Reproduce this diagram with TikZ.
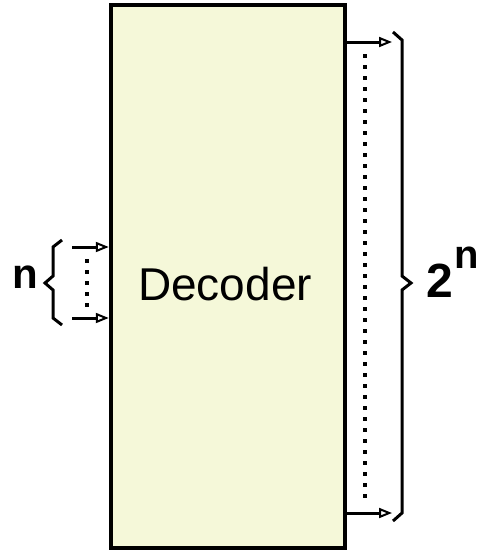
\documentclass[tikz,border=0pt]{standalone}
\usepackage{fontspec}
\setmainfont{Liberation Sans}
\usetikzlibrary{arrows.meta}
\definecolor{boxfill}{RGB}{245,248,217}
\tikzset{
  x=1pt,y=-1pt,
  conn/.style={line width=3pt,-{Triangle[open,length=13pt,width=10pt,line width=2pt]}},
  dotline/.style={line width=4pt,dash pattern=on 3.5pt off 7.5pt},
  bracestyle/.style={line width=3pt,line join=miter},
  lbl/.style={inner sep=0pt,anchor=center}
}
\begin{document}
\begin{tikzpicture}
\useasboundingbox (0,0) rectangle (483,554);
\node[draw,line width=4.5pt,fill=boxfill,minimum width=234pt,minimum height=543pt,inner sep=0pt] (dec) at (228,276.5) {};
\node[inner sep=0pt,font=\fontsize{46}{50}\selectfont] (txt) at (225,284) {Decoder};
% inputs
\coordinate (i1) at (72,247);
\coordinate (i2) at (72,318);
\draw[conn] (i1) -- (i1 -| dec.west);
\draw[conn] (i2) -- (i2 -| dec.west);
\coordinate (id1) at (87,259);
\coordinate (id2) at (87,309);
\draw[dotline] (id1) -- (id2);
\coordinate (lb1) at (62,240);
\coordinate (lb2) at (62,325);
\draw[bracestyle] (lb1) -- (53,247) -- (53,276) -- (45,283) -- (53,290) -- (53,318) -- (lb2);
\node[lbl,font=\bfseries\fontsize{42}{44}\selectfont] (n) at (25,277) {n};
% outputs
\coordinate (o1) at (392,42);
\coordinate (o2) at (392,513);
\draw[conn] (o1 -| dec.east) -- (o1);
\draw[conn] (o2 -| dec.east) -- (o2);
\coordinate (od1) at (365,54);
\coordinate (od2) at (365,502);
\draw[dotline] (od1) -- (od2);
\coordinate (rb1) at (393,32);
\coordinate (rb2) at (393,521);
\draw[bracestyle] (rb1) -- (402,40) -- (402,276) -- (411,283) -- (402,290) -- (402,513) -- (rb2);
\node[lbl,font=\bfseries\fontsize{48}{50}\selectfont] (two) at (439.5,280.5) {2};
\node[lbl,font=\bfseries\fontsize{40}{42}\selectfont] (sup) at (467,258) {n};
\end{tikzpicture}
\end{document}
